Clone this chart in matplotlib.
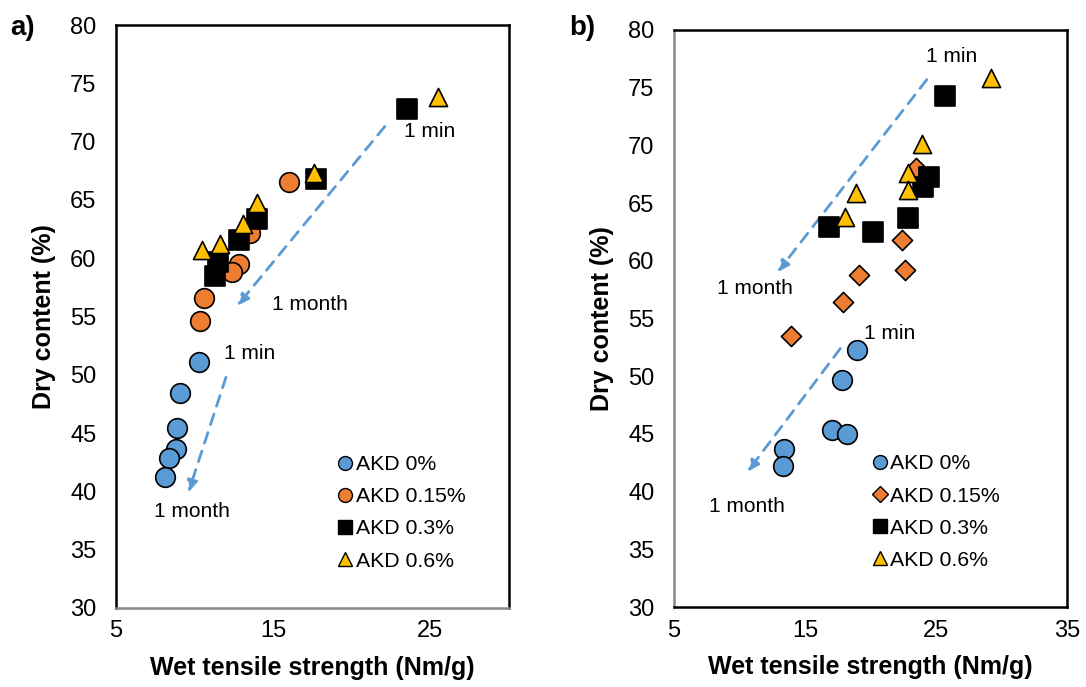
import matplotlib
matplotlib.use("Agg")
import matplotlib.pyplot as plt
from matplotlib.lines import Line2D

plt.rcParams['font.family'] = ['Liberation Sans', 'DejaVu Sans']

series = ["AKD 0%", "AKD 0.15%", "AKD 0.3%", "AKD 0.6%"]
colors = ["#5B9BD5", "#ED7D31", "#000000", "#FFC000"]

# panel a) wet tensile strength (Nm/g) vs dry content (%)
a_x0 = [10.3, 9.1, 8.9, 8.8, 8.4, 8.1]
a_y0 = [51.1, 48.4, 45.4, 43.6, 42.9, 41.2]
a_x15 = [16.0, 13.5, 12.8, 12.4, 10.6, 10.35]
a_y15 = [66.5, 62.2, 59.5, 58.8, 56.6, 54.6]
a_x3 = [23.5, 17.7, 14.0, 12.8, 11.5, 11.3]
a_y3 = [72.8, 66.8, 63.4, 61.6, 59.7, 58.5]
a_x6 = [25.5, 17.6, 14.0, 13.1, 11.6, 10.5]
a_y6 = [73.8, 67.3, 64.7, 62.9, 61.2, 60.7]

# panel b)
b_x0 = [19.0, 17.8, 17.1, 18.2, 13.4, 13.3]
b_y0 = [52.3, 49.7, 45.3, 45.0, 43.7, 42.2]
b_x15 = [23.5, 22.4, 22.6, 19.1, 17.9, 13.9]
b_y15 = [68.0, 61.8, 59.2, 58.8, 56.4, 53.5]
b_x3 = [25.7, 24.5, 24.0, 22.9, 20.2, 16.8]
b_y3 = [74.3, 67.3, 66.4, 63.7, 62.5, 62.9]
b_x6 = [29.2, 23.9, 22.9, 22.9, 18.9, 18.05]
b_y6 = [75.8, 70.1, 67.6, 66.1, 65.9, 63.8]

fig = plt.figure(figsize=(10.86, 6.87), dpi=100)
ax1 = fig.add_axes([0.1068, 0.115, 0.3619, 0.8486])
ax2 = fig.add_axes([0.6206, 0.1164, 0.3619, 0.840])

blue = "#5B9BD5"


def arrow(ax, start, end):
    ax.annotate("", xy=end, xytext=start,
                arrowprops=dict(arrowstyle="-|>,head_length=0.7,head_width=0.3",
                                color=blue, lw=2, linestyle=(0, (4, 3)),
                                shrinkA=0, shrinkB=0))


def style(ax, xmax, xticks, left_col, bottom_col):
    ax.set_xlim(5, xmax)
    ax.set_ylim(30, 80)
    ax.set_xticks(xticks)
    ax.set_yticks(range(30, 81, 5))
    ax.tick_params(length=0, labelsize=17, pad=9)
    ax.tick_params(axis='y', pad=14)
    for s in ax.spines.values():
        s.set_linewidth(1.8)
        s.set_color("black")
    ax.spines['left'].set_color(left_col)
    ax.spines['bottom'].set_color(bottom_col)
    ax.set_xlabel("Wet tensile strength (Nm/g)", fontsize=18, fontweight='bold', labelpad=10)
    ax.set_ylabel("Dry content (%)", fontsize=18, fontweight='bold', labelpad=10)


# ---- panel a
ax = ax1
ax.scatter(a_x0, a_y0, s=200, marker='o', c=colors[0], edgecolors='black', linewidths=1.2, zorder=3)
ax.scatter(a_x15, a_y15, s=200, marker='o', c=colors[1], edgecolors='black', linewidths=1.2, zorder=3)
ax.scatter(a_x3, a_y3, s=210, marker='s', c=colors[2], edgecolors='black', linewidths=1.2, zorder=4)
ax.scatter(a_x6, a_y6, s=170, marker='^', c=colors[3], edgecolors='black', linewidths=1.2, zorder=5)
arrow(ax, (22.1, 71.3), (12.7, 55.9))
arrow(ax, (12.0, 49.8), (9.6, 39.9))
ax.text(23.3, 70.9, "1 min", fontsize=15, va='center')
ax.text(14.9, 56.0, "1 month", fontsize=15, va='center')
ax.text(11.9, 51.8, "1 min", fontsize=15, va='center')
ax.text(7.4, 38.3, "1 month", fontsize=15, va='center')
style(ax, 30, [5, 15, 25], "black", "#888888")
leg_a = [Line2D([], [], ls='', marker='o', ms=10, mfc=colors[0], mec='black', label=series[0]),
         Line2D([], [], ls='', marker='o', ms=10, mfc=colors[1], mec='black', label=series[1]),
         Line2D([], [], ls='', marker='s', ms=10, mfc=colors[2], mec='black', label=series[2]),
         Line2D([], [], ls='', marker='^', ms=10, mfc=colors[3], mec='black', label=series[3])]
ax.legend(handles=leg_a, loc='lower left', bbox_to_anchor=(0.54, 0.046), frameon=False,
          fontsize=15.3, handlelength=0.6, handletextpad=0.2, labelspacing=0.62, borderpad=0)

# ---- panel b
ax = ax2
ax.scatter(b_x0, b_y0, s=200, marker='o', c=colors[0], edgecolors='black', linewidths=1.2, zorder=3)
ax.scatter(b_x15, b_y15, s=105, marker='D', c=colors[1], edgecolors='black', linewidths=1.2, zorder=3)
ax.scatter(b_x3, b_y3, s=210, marker='s', c=colors[2], edgecolors='black', linewidths=1.2, zorder=4)
ax.scatter(b_x6, b_y6, s=170, marker='^', c=colors[3], edgecolors='black', linewidths=1.2, zorder=5)
arrow(ax, (24.3, 75.7), (12.9, 59.0))
arrow(ax, (17.7, 52.4), (10.6, 41.7))
ax.text(24.2, 77.7, "1 min", fontsize=15, va='center')
ax.text(8.3, 57.6, "1 month", fontsize=15, va='center')
ax.text(19.5, 53.7, "1 min", fontsize=15, va='center')
ax.text(7.7, 38.7, "1 month", fontsize=15, va='center')
style(ax, 35, [5, 15, 25, 35], "#888888", "black")
leg_b = [Line2D([], [], ls='', marker='o', ms=10, mfc=colors[0], mec='black', label=series[0]),
         Line2D([], [], ls='', marker='D', ms=8, mfc=colors[1], mec='black', label=series[1]),
         Line2D([], [], ls='', marker='s', ms=10, mfc=colors[2], mec='black', label=series[2]),
         Line2D([], [], ls='', marker='^', ms=10, mfc=colors[3], mec='black', label=series[3])]
ax.legend(handles=leg_b, loc='lower left', bbox_to_anchor=(0.48, 0.046), frameon=False,
          fontsize=15.3, handlelength=0.6, handletextpad=0.2, labelspacing=0.62, borderpad=0)

fig.text(0.009, 0.978, "a)", fontsize=20, fontweight='bold', va='top')
fig.text(0.524, 0.978, "b)", fontsize=20, fontweight='bold', va='top')

fig.savefig("out.png", dpi=100)
